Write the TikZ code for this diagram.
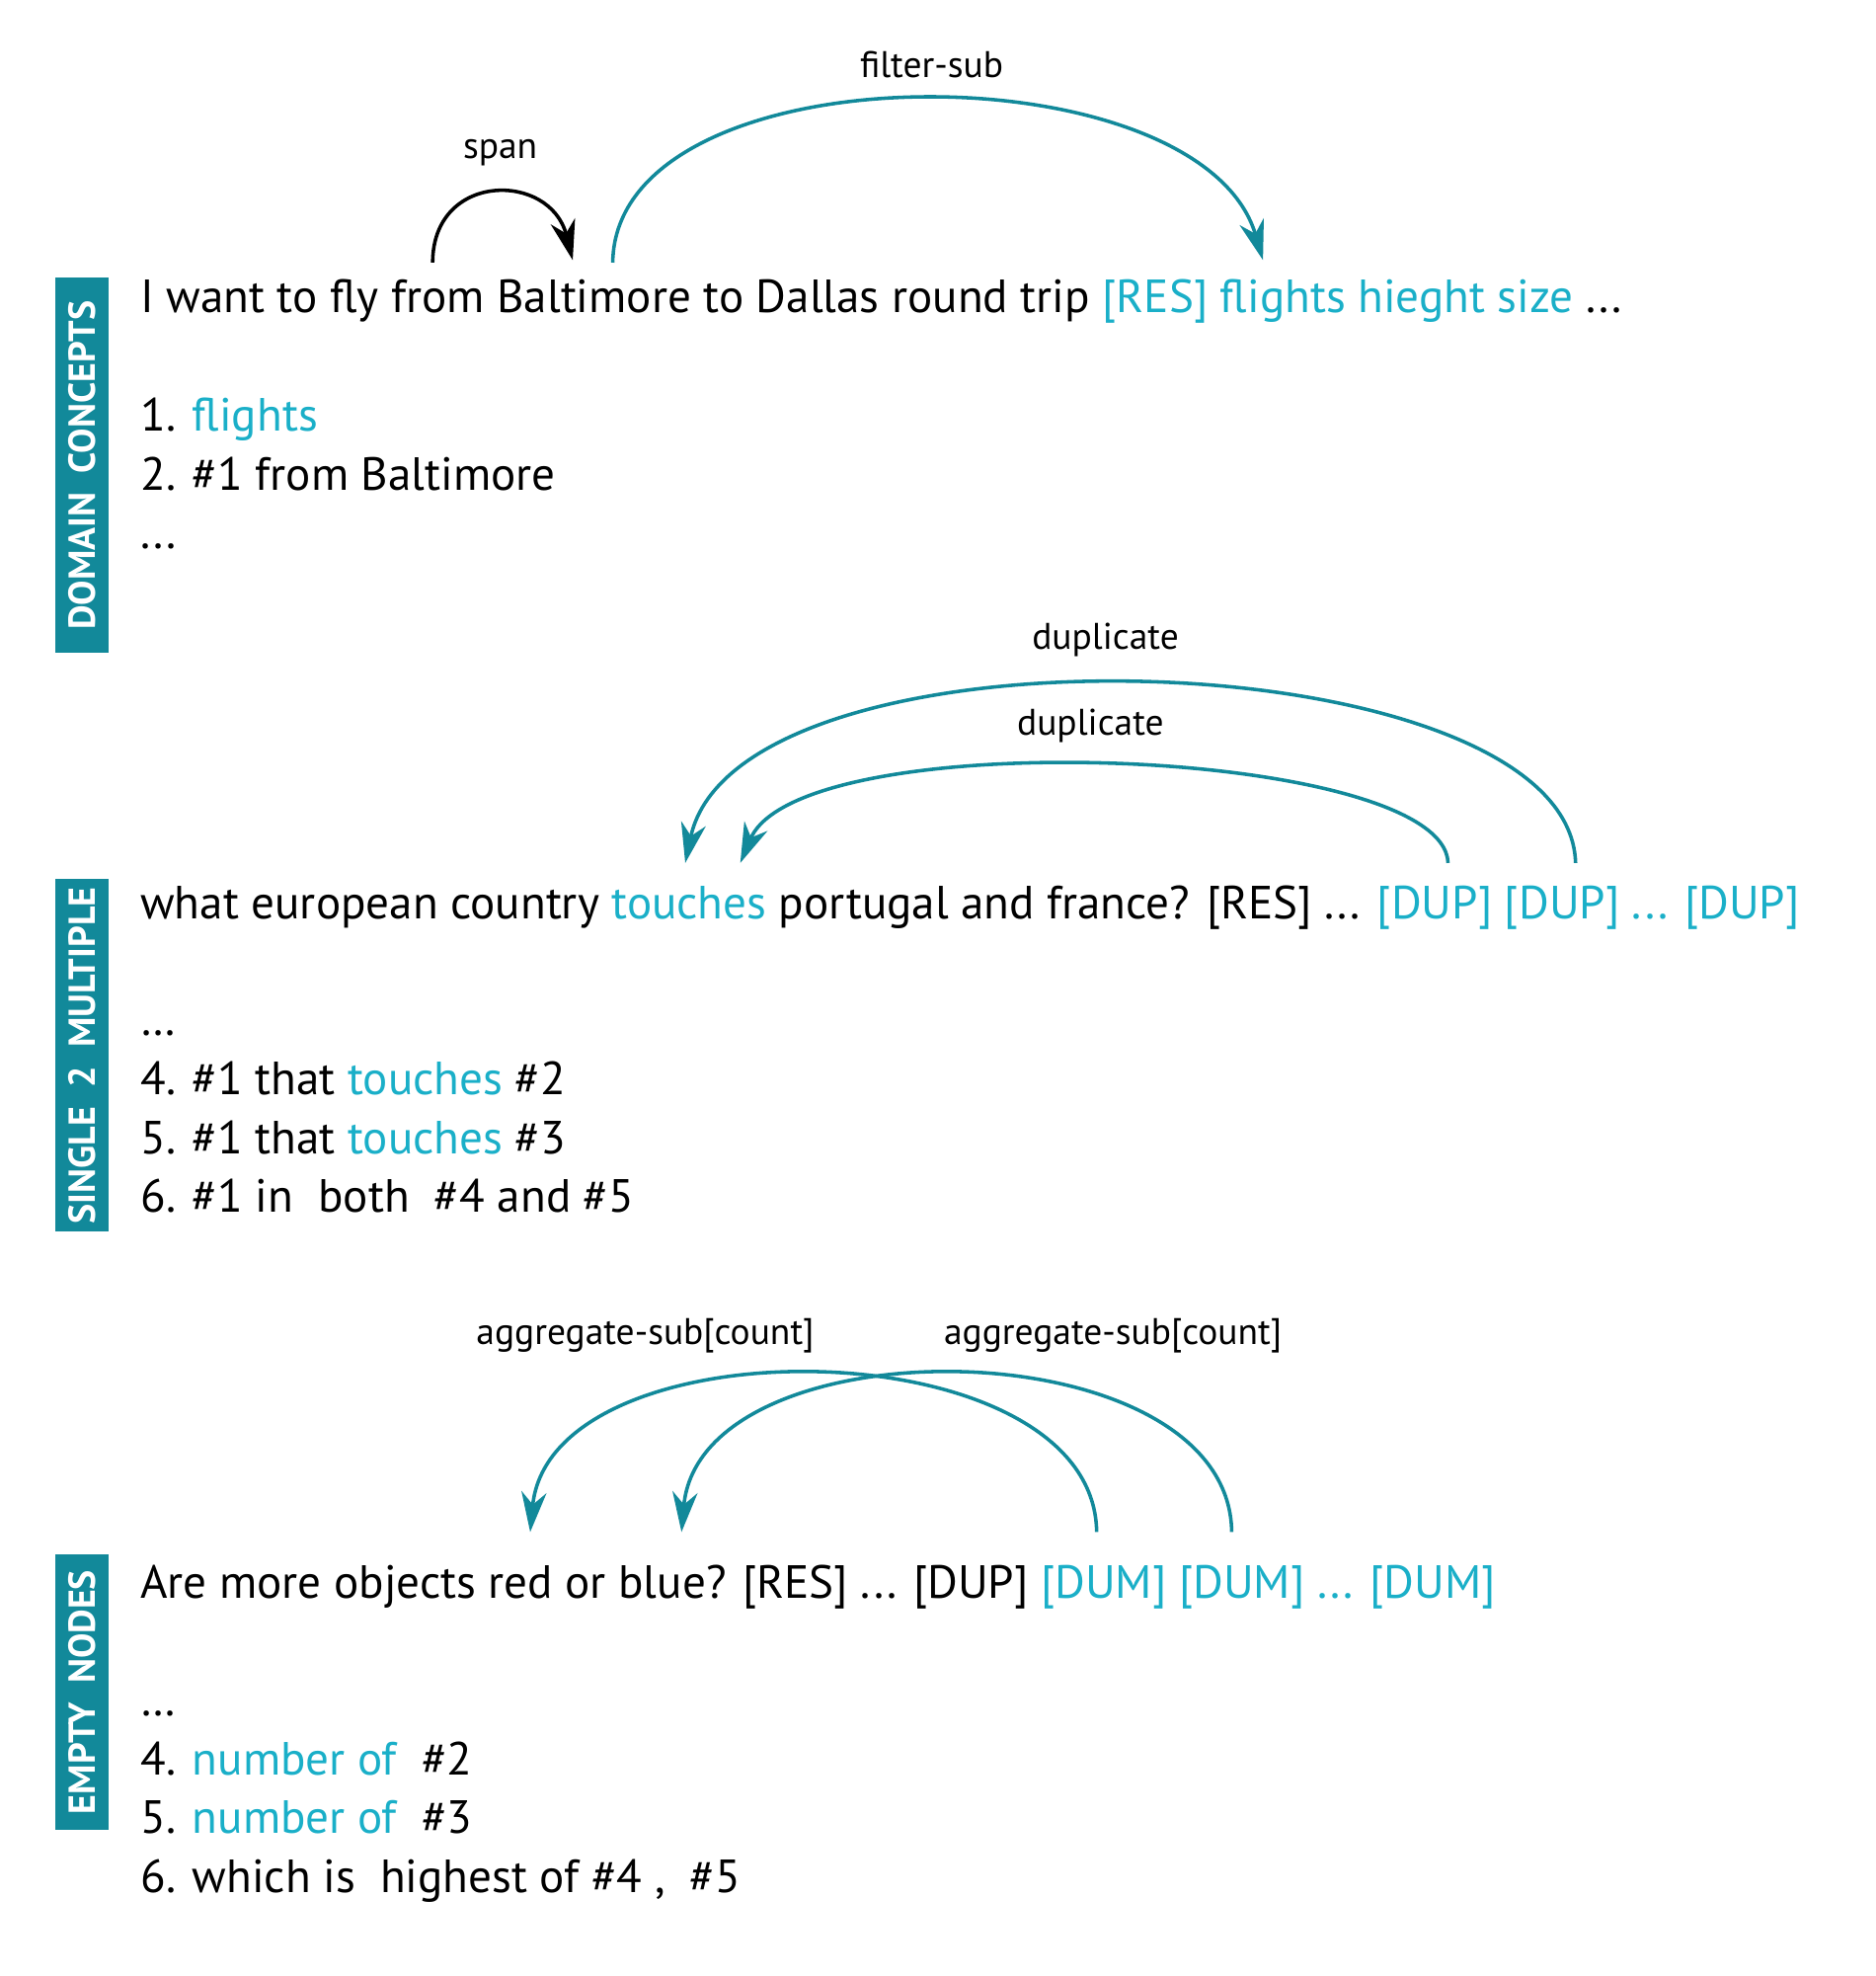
\documentclass[tikz,border=0pt]{standalone}
\usepackage{fontspec}
\setmainfont{PT Sans}
\usetikzlibrary{arrows.meta}
\definecolor{tl}{HTML}{1AAFC8}
\definecolor{dk}{HTML}{12899A}
\newcommand{\hl}[1]{\textcolor{tl}{#1}}
\begin{document}
\begin{tikzpicture}[x=0.5pt,y=-0.5pt,
  txt/.style={anchor=base west,inner sep=0pt,font=\fontsize{18.6}{23}\selectfont},
  lst/.style={anchor=north west,inner sep=0pt,align=left,font=\fontsize{18.6}{23.5}\selectfont},
  lab/.style={inner sep=0pt,font=\fontsize{14.8}{16}\selectfont},
  side/.style={fill=dk,text=white,rotate=90,inner sep=0pt,font=\bfseries\fontsize{15}{16}\selectfont,minimum height=21pt},
  arr/.style={draw=dk,line width=1.4pt,-{Stealth[length=16pt,width=10pt,inset=5pt]}},
  arb/.style={draw=black,line width=1.4pt,-{Stealth[length=16pt,width=10pt,inset=5pt]}}]
\useasboundingbox (0,0) rectangle (1500,1580);
% sidebars
\node[side,minimum width=150pt] (s1) at (65.5,372) {DOMAIN\ \ CONCEPTS};
\node[side,minimum width=141pt] (s2) at (65.5,844) {SINGLE\ \ 2\ \ MULTIPLE};
\node[side,minimum width=110pt] (s3) at (65.5,1353) {EMPTY\ \ NODES};
% section 1
\node[txt] (t1) at (112,250) {I want to fly from Baltimore to Dallas round trip \hl{[RES] flights hieght size} ...};
\node[lst] (l1) at (112,318) {1. \hl{flights}\\2. \#1 from Baltimore\\...};
\coordinate (a1) at (346,210); \coordinate (b1) at (458,208);
\coordinate (a2) at (490,210); \coordinate (b2) at (1010,208);
\draw[arb] (a1) .. controls (346,137) and (440,137) .. (b1);
\draw[arr] (a2) .. controls (492,37) and (960,37) .. (b2);
\node[lab] (span) at (400,122) {span};
\node[lab] (fs) at (745,52) {filter-sub};
% section 2
\node[txt] (t2) at (112,735) {what european country \hl{touches} portugal and france? [RES] ... \hl{[DUP] [DUP] ... [DUP]}};
\node[lst] (l2) at (112,824) {\dots\\4. \#1 that \hl{touches} \#2\\5. \#1 that \hl{touches} \#3\\6. \#1 in\ \ both\ \ \#4 and \#5};
\coordinate (c1) at (1260,690); \coordinate (d1) at (548,690);
\coordinate (c2) at (1158,690); \coordinate (d2) at (592,690);
\draw[arr] (c1) .. controls (1255,510) and (590,490) .. (d1);
\draw[arr] (c2) .. controls (1155,597) and (640,577) .. (d2);
\node[lab] (du1) at (884,512) {duplicate};
\node[lab] (du2) at (872,580) {duplicate};
% section 3
\node[txt] (t3) at (112,1278) {Are more objects red or blue? [RES] ... [DUP] \hl{[DUM] [DUM] ... [DUM]}};
\node[lst] (l3) at (112,1368) {\dots\\4. \hl{number of}\ \ \#2\\5. \hl{number of}\ \ \#3\\6. which is\ \ highest of \#4 ,\ \ \#5};
\coordinate (e1) at (877,1225); \coordinate (f1) at (424,1225);
\coordinate (e2) at (985,1225); \coordinate (f2) at (545,1225);
\draw[arr] (e1) .. controls (875,1060) and (440,1055) .. (f1);
\draw[arr] (e2) .. controls (983,1060) and (560,1055) .. (f2);
\node[lab] (ag1) at (516,1068) {aggregate-sub[count]};
\node[lab] (ag2) at (890,1068) {aggregate-sub[count]};
\end{tikzpicture}
\end{document}
